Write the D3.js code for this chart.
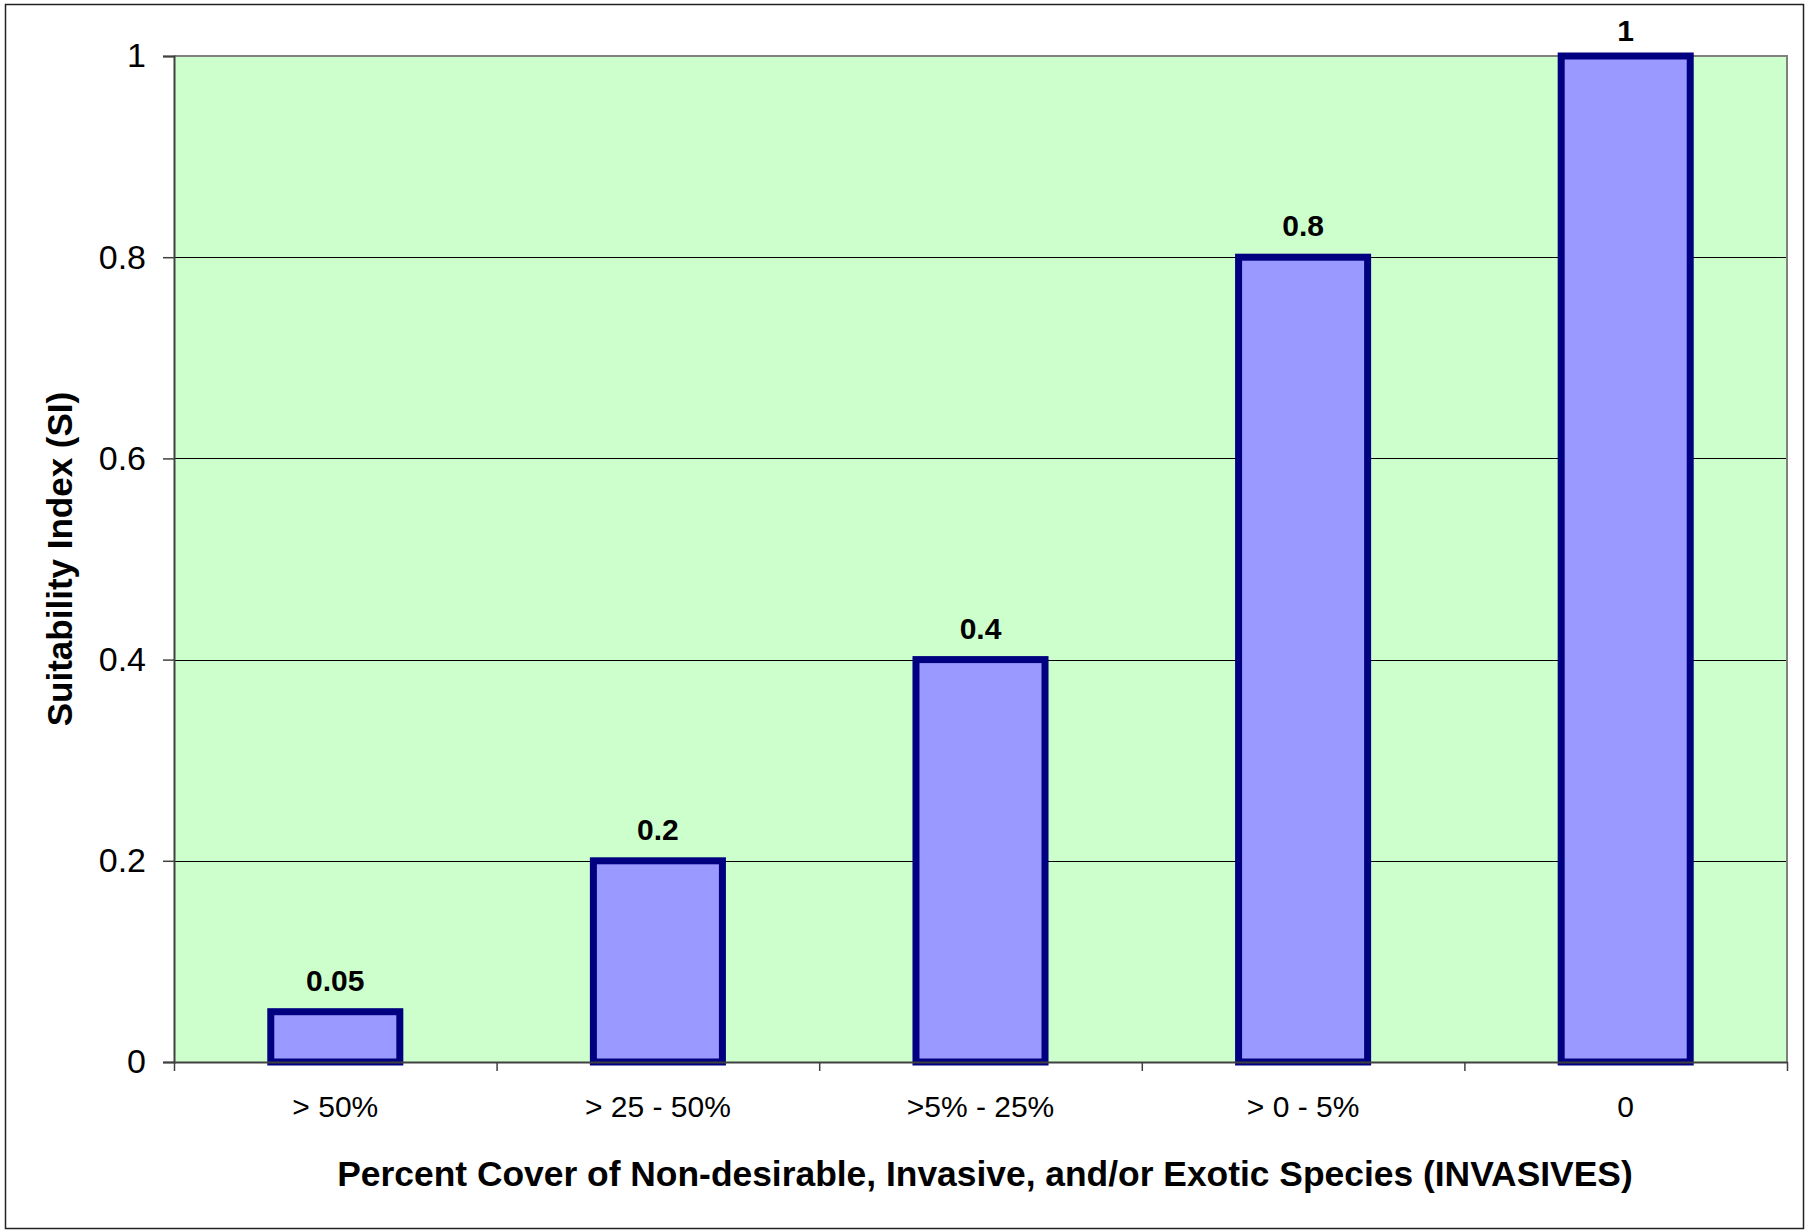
<!DOCTYPE html>
<html>
<head>
<meta charset="utf-8">
<script src="https://cdn.jsdelivr.net/npm/d3@7"></script>
<style>
  body { margin: 0; background: #fff; }
  text { font-family: "Liberation Sans", Arial, sans-serif; }
</style>
</head>
<body>
<div id="chart"></div>
<script>
'use strict'
// chart data
var categories = ["> 50%", "> 25 - 50%", ">5% - 25%", "> 0 - 5%", "0"];
var siValues = [0.05, 0.2, 0.4, 0.8, 1];
var yTicks = [0, 0.2, 0.4, 0.6, 0.8, 1];
var xTitle = "Percent Cover of Non-desirable, Invasive, and/or Exotic Species (INVASIVES)";
var yTitle = "Suitability Index (SI)";

var width = 1805, height = 1231,
    plot = { left: 174, top: 56, right: 1787, bottom: 1062 };

var svg = d3.select("#chart").append("svg")
    .attr("width", width)
    .attr("height", height);

// outer chart border
svg.append("rect")
    .attr("x", 5.5).attr("y", 4.5)
    .attr("width", 1798).attr("height", 1224)
    .style("fill", "#fff")
    .style("stroke", "#222")
    .style("stroke-width", 1.5);

var x = d3.scaleBand()
    .domain(categories)
    .range([plot.left, plot.right])
    .paddingInner(0.6)
    .paddingOuter(0.3);

var y = d3.scaleLinear()
    .domain([0, 1])
    .range([plot.bottom, plot.top]);

// category boundaries for the tick marks
var xEdges = d3.scaleLinear()
    .domain([0, categories.length])
    .range([plot.left, plot.right]);

// plot background
svg.append("rect")
    .attr("x", plot.left).attr("y", plot.top)
    .attr("width", plot.right - plot.left)
    .attr("height", plot.bottom - plot.top)
    .style("fill", "#ccffcc");

// gridlines
svg.append("g")
    .selectAll("line")
    .data(yTicks.filter(function(d){ return d > 0 && d < 1; }))
    .enter()
    .append("line")
    .attr("x1", plot.left).attr("x2", plot.right)
    .attr("y1", function(d){ return Math.round(y(d)) + 0.5; })
    .attr("y2", function(d){ return Math.round(y(d)) + 0.5; })
    .style("stroke", "#000")
    .style("stroke-width", 1);

// plot border (top and right in grey)
svg.append("path")
    .attr("d", "M" + plot.left + "," + plot.top + "H" + plot.right + "V" + plot.bottom)
    .style("fill", "none")
    .style("stroke", "#808080")
    .style("stroke-width", 2);

// bars
svg.append("g")
    .selectAll("rect")
    .data(siValues)
    .enter()
    .append("rect")
    .attr("x", function(d, i){ return x(categories[i]); })
    .attr("y", function(d){ return y(d); })
    .attr("width", x.bandwidth())
    .attr("height", function(d){ return plot.bottom - y(d); })
    .style("fill", "#9999ff")
    .style("stroke", "#000080")
    .style("stroke-width", 7);

// value labels (kept inside the chart at the top)
svg.append("g")
    .selectAll("text")
    .data(siValues)
    .enter()
    .append("text")
    .attr("x", function(d, i){ return x(categories[i]) + x.bandwidth() / 2; })
    .attr("y", function(d){ return Math.max(y(d) - 21, 41); })
    .attr("text-anchor", "middle")
    .attr("font-size", "30px")
    .attr("font-weight", "bold")
    .attr("fill", "#000")
    .text(function(d){ return d; });

// y axis
var yAxis = svg.append("g")
    .attr("transform", "translate(" + plot.left + ",0)")
    .call(d3.axisLeft(y)
        .tickValues(yTicks)
        .tickFormat(function(d){ return String(d); })
        .tickSize(11)
        .tickPadding(17));
yAxis.select(".domain").style("stroke", "#404040").style("stroke-width", 2);
yAxis.selectAll(".tick line").style("stroke", "#404040").style("stroke-width", 1.5);
yAxis.selectAll("text")
    .attr("font-size", "34px")
    .attr("font-family", "Liberation Sans, Arial, sans-serif")
    .attr("fill", "#000");

// x axis: labels
var xAxis = svg.append("g")
    .attr("transform", "translate(0," + plot.bottom + ")")
    .call(d3.axisBottom(x).tickSize(0).tickPadding(0));
xAxis.select(".domain").remove();
xAxis.selectAll("text")
    .attr("y", 55)
    .attr("dy", null)
    .attr("font-size", "30px")
    .attr("font-family", "Liberation Sans, Arial, sans-serif")
    .attr("fill", "#000");

// x axis: line and boundary ticks
var xEdgeAxis = svg.append("g")
    .attr("transform", "translate(0," + plot.bottom + ")")
    .call(d3.axisBottom(xEdges)
        .ticks(categories.length)
        .tickFormat("")
        .tickSize(9)
        .tickSizeOuter(0));
xEdgeAxis.select(".domain").style("stroke", "#404040").style("stroke-width", 2);
xEdgeAxis.selectAll(".tick line").style("stroke", "#404040").style("stroke-width", 1.5);

// axis titles
svg.append("text")
    .attr("x", 985)
    .attr("y", 1186)
    .attr("text-anchor", "middle")
    .attr("font-size", "35.4px")
    .attr("font-weight", "bold")
    .text(xTitle);

svg.append("text")
    .attr("transform", "translate(72," + ((plot.top + plot.bottom) / 2) + ") rotate(-90)")
    .attr("text-anchor", "middle")
    .attr("font-size", "35px")
    .attr("font-weight", "bold")
    .text(yTitle);
</script>
</body>
</html>
